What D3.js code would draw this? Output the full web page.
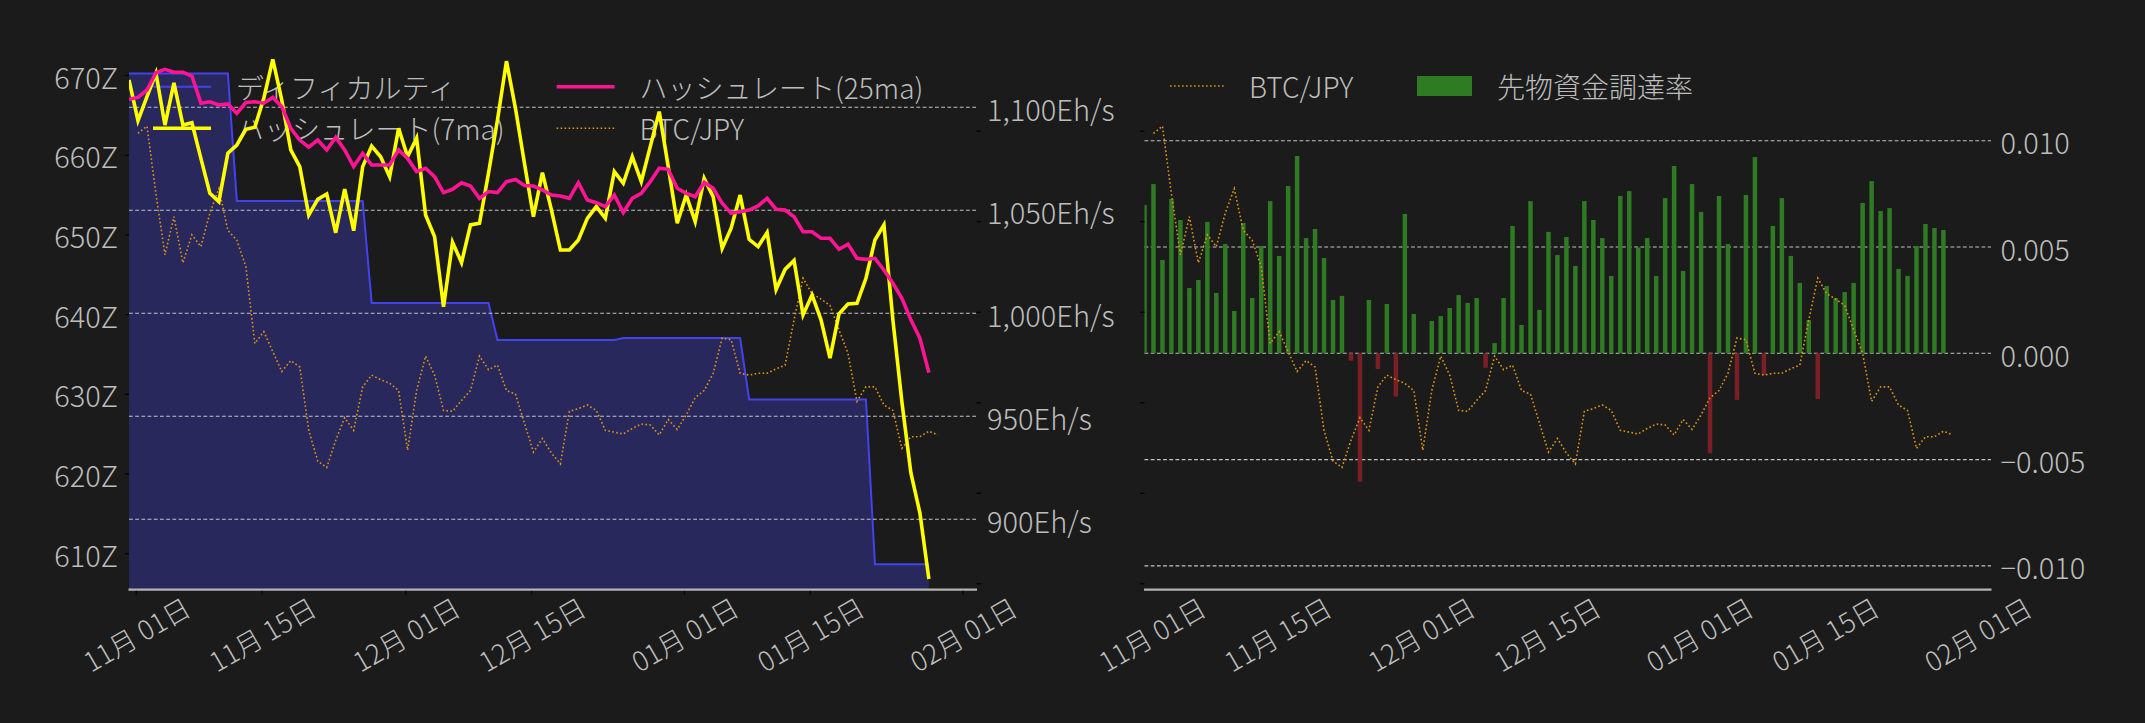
<!DOCTYPE html>
<html><head><meta charset="utf-8">
<script src="https://cdn.jsdelivr.net/npm/d3@7"></script>
<style>
html,body{margin:0;padding:0;background:#1b1b1b;}
svg{display:block;}
text{font-family:"Noto Sans CJK JP","Noto Sans",sans-serif;font-weight:300;fill:#bdbdbd;}
</style></head><body>
<svg id="chart" width="2145" height="723"></svg>
<script>
// ---------- data ----------
const startDate = Date.UTC(2025, 9, 31, 4, 48); // first daily sample
const difficultyZ = [
 670.2,670.2,670.2,670.2,670.2,670.2,670.2,670.2,670.2,670.2,670.2,670.2,
 654.2,654.2,654.2,654.2,654.2,654.2,654.2,654.2,654.2,654.2,654.2,654.2,654.2,654.2,654.2,
 641.4,641.4,641.4,641.4,641.4,641.4,641.4,641.4,641.4,641.4,641.4,641.4,641.4,641.4,
 636.75,636.75,636.75,636.75,636.75,636.75,636.75,636.75,636.75,636.75,636.75,636.75,636.75,636.75,
 637.0,637.0,637.0,637.0,637.0,637.0,637.0,637.0,637.0,637.0,637.0,637.0,637.0,637.0,
 629.3,629.3,629.3,629.3,629.3,629.3,629.3,629.3,629.3,629.3,629.3,629.3,629.3,629.3,
 608.6,608.6,608.6,608.6,608.6,608.6,608.6];
const hash7ma = [
 1113.3,1093.5,1105.2,1116.5,1091.4,1111.9,1091.4,1092.5,1075.2,1058.2,
 1054.2,1077.7,1081.7,1089.3,1090.3,1104.4,1123.3,1103.5,1079.3,1071.2,
 1047.7,1055.3,1057.9,1039.1,1060.3,1040.1,1071.2,1081.2,1076.0,1066.3,
 1089.8,1076.0,1085.0,1047.7,1037.2,1003.2,1034.5,1024.6,1042.9,1043.7,
 1068.0,1093.8,1122.4,1099.5,1072.8,1046.9,1068.3,1050.2,1030.7,1030.7,
 1035.6,1046.1,1051.8,1046.1,1068.8,1063.1,1076.0,1063.9,1080.9,1097.9,
 1071.2,1043.7,1057.4,1044.5,1065.5,1056.6,1031.5,1041.3,1057.4,1035.9,
 1032.4,1039.2,1011.6,1021.3,1025.6,999.2,1008.9,996.8,978.2,999.7,
 1004.5,1004.8,1017.0,1035.6,1042.9,996.7,956.9,922.5,903.1,871.0];
const hash25ma = [
 1103.9,1104.8,1108.4,1116.8,1118.4,1117.0,1117.0,1115.2,1102.0,1102.7,
 1101.1,1101.6,1097.1,1102.3,1102.7,1102.0,1104.8,1100.3,1089.8,1084.1,
 1080.6,1084.1,1079.3,1085.4,1079.3,1071.2,1077.7,1072.0,1072.0,1072.0,
 1079.3,1075.2,1068.8,1070.4,1066.3,1058.6,1060.2,1063.4,1061.8,1055.8,
 1059.1,1058.6,1063.9,1065.0,1062.0,1061.8,1059.9,1057.4,1056.9,1055.8,
 1063.4,1055.0,1053.7,1051.8,1057.4,1048.9,1055.8,1058.2,1063.9,1070.4,
 1069.9,1060.7,1058.2,1056.6,1063.6,1060.7,1053.4,1048.5,1049.3,1050.1,
 1052.1,1055.8,1050.5,1050.1,1046.9,1039.6,1039.6,1036.4,1036.4,1031.1,
 1033.6,1026.7,1026.2,1026.7,1021.0,1014.6,1007.3,996.8,987.9,971.2];
// BTC/JPY in millions of yen (first day has no value)
const btcJpyM = [null,
 16.97,17.05,16.30,15.63,16.05,15.54,15.85,15.72,16.09,16.36,
 15.90,15.79,15.50,14.65,14.78,14.56,14.34,14.46,14.39,13.69,
 13.35,13.28,13.58,13.83,13.69,14.17,14.30,14.25,14.21,14.13,
 13.47,14.13,14.51,14.30,13.91,13.90,14.02,14.13,14.51,14.36,
 14.41,14.13,14.09,13.77,13.45,13.60,13.44,13.32,13.90,13.93,
 13.97,13.91,13.69,13.67,13.65,13.71,13.76,13.75,13.64,13.81,
 13.70,13.86,14.05,14.13,14.32,14.71,14.69,14.32,14.30,14.32,
 14.32,14.37,14.41,14.91,15.37,15.20,15.14,15.07,14.80,14.54,
 14.01,14.17,14.17,13.97,13.91,13.49,13.62,13.62,13.68,13.64];
const fundingRate = [
 0.00698,0.00796,0.00439,0.00726,0.00627,0.00307,0.00345,0.00618,0.00284,0.00514,
 0.00199,0.00613,0.00260,0.00505,0.00716,0.00458,0.00787,0.00928,0.00542,0.00585,
 0.00448,0.00251,0.00270,-0.00035,-0.00604,0.00251,-0.00074,0.00232,-0.00204,0.00655,
 0.00185,0.00000,0.00152,0.00175,0.00213,0.00274,0.00237,0.00260,-0.00068,0.00048,
 0.00260,0.00599,0.00133,0.00716,0.00204,0.00571,0.00462,0.00547,0.00411,0.00716,
 0.00627,0.00542,0.00364,0.00740,0.00763,0.00498,0.00542,0.00364,0.00730,0.00881,
 0.00387,0.00796,0.00665,-0.00470,0.00740,0.00514,-0.00219,0.00745,0.00923,-0.00102,
 0.00599,0.00730,0.00458,0.00331,0.00157,-0.00215,0.00317,0.00260,0.00288,0.00331,
 0.00707,0.00810,0.00669,0.00683,0.00397,0.00364,0.00505,0.00608,0.00589,0.00580];
const tickDates = [[2025,10,1],[2025,10,15],[2025,11,1],[2025,11,15],[2026,0,1],[2026,0,15],[2026,1,1]];
const tickLabels = ["11月 01日","11月 15日","12月 01日","12月 15日","01月 01日","01月 15日","02月 01日"];
const diffTicks = [610,620,630,640,650,660,670];
const hashTicks = [900,950,1000,1050,1100];
const btcTicks = [12,13,14,15,16,17];
const fundTicks = [-0.010,-0.005,0.000,0.005,0.010];
const leftLegend = ["ディフィカルティ","ハッシュレート(7ma)","ハッシュレート(25ma)","BTC/JPY"];
const rightLegend = ["BTC/JPY","先物資金調達率"];

// ---------- layout ----------
const W = 2145, H = 723;
const yTop = 48.7, yBot = 589.3;
const L = {x0:129, x1:976.5}, R = {x0:1144.5, x1:1991};
const dayMs = 864e5;
const FS_Y = 29, FS_LEG = 28, FS_X = 27;
const C = {bg:"#1b1b1b", fill:"#29285c", blue:"#4343ee", yellow:"#ffff00", pink:"#ff1493",
  btc:"#e09512", green:"#2e7b23", red:"#7b1f27", grid:"#c4c4c4", text:"#bdbdbd", axis:"#b3b3b3"};

const svg = d3.select("#chart");
svg.append("rect").attr("width",W).attr("height",H).attr("fill",C.bg);

const dates = difficultyZ.map((_,i)=> new Date(startDate + i*dayMs));
const btcDates = btcJpyM.map((_,i)=> new Date(startDate + i*dayMs));
const xDomain = [new Date(startDate), new Date(startDate + 94.3*dayMs)];
const xL = d3.scaleUtc().domain(xDomain).range([L.x0, L.x1]);
const xR = d3.scaleUtc().domain(xDomain).range([R.x0, R.x1]);
const yDiff = d3.scaleLinear().domain([605.47, 673.3]).range([yBot, yTop]);
const yHash = d3.scaleLinear().domain([866.0, 1128.45]).range([yBot, yTop]);
const yBtc = d3.scaleLinear().domain([11.934, 17.906]).range([yBot, yTop]);
const yFund = d3.scaleLinear().domain([-0.0111, 0.014327]).range([yBot, yTop]);
const tDates = tickDates.map(d=> new Date(Date.UTC(d[0],d[1],d[2])));

const defs = svg.append("defs");
defs.append("clipPath").attr("id","clipL").append("rect")
  .attr("x",L.x0).attr("y",yTop-20).attr("width",L.x1-L.x0).attr("height",yBot-yTop+20);
defs.append("clipPath").attr("id","clipR").append("rect")
  .attr("x",R.x0).attr("y",yTop-20).attr("width",R.x1-R.x0).attr("height",yBot-yTop+20);

function xAxisLabels(x, x0, x1, showTicks){
  const g = svg.append("g");
  g.append("line").attr("x1",x0-0.5).attr("x2",x1+0.5).attr("y1",yBot+0.3).attr("y2",yBot+0.3)
    .attr("stroke",C.axis).attr("stroke-width",2.4);
  tDates.forEach((d,i)=>{
    const tx = x(d);
    if(showTicks) g.append("line").attr("x1",tx).attr("x2",tx).attr("y1",yBot+1.5).attr("y2",yBot+5.5)
      .attr("stroke","#050505").attr("stroke-width",1.2);
    g.append("text").attr("transform",`translate(${tx},633.5) rotate(-30)`)
      .attr("text-anchor","middle").attr("dominant-baseline","central")
      .style("font-size",FS_X+"px").text(tickLabels[i]);
  });
}
function hiddenTicks(axisGen, xpos){
  const g = svg.append("g").attr("transform",`translate(${xpos},0)`).call(axisGen);
  g.select(".domain").remove();
  g.selectAll("line").attr("stroke","#000").attr("stroke-width",1.2);
  return g;
}
function styleLabels(g){
  g.selectAll("text").style("font-size",FS_Y+"px").style("font-family",'"Noto Sans CJK JP","Noto Sans",sans-serif')
    .style("font-weight",300).attr("fill",C.text).attr("dy",null).attr("dominant-baseline","central");
}

// ================= LEFT CHART =================
const gL = svg.append("g").attr("clip-path","url(#clipL)");
gL.append("path").datum(difficultyZ)
  .attr("d", d3.area().x((d,i)=>xL(dates[i])).y0(yBot).y1(d=>yDiff(d)))
  .attr("fill",C.fill);
gL.append("path").datum(difficultyZ)
  .attr("d", d3.line().x((d,i)=>xL(dates[i])).y(d=>yDiff(d)))
  .attr("fill","none").attr("stroke",C.blue).attr("stroke-width",2);

// grid from hashrate axis
svg.append("g").selectAll("line").data(hashTicks).join("line")
  .attr("x1",L.x0).attr("x2",L.x1).attr("y1",d=>yHash(d)).attr("y2",d=>yHash(d))
  .attr("stroke",C.grid).attr("stroke-width",1.1).attr("stroke-dasharray","3.8,2.4");

// left legend (below hashrate lines)
const legL = svg.append("g");
const legItems = [
  {x:153, y:86.7, t:leftLegend[0], c:C.blue, w:2, dash:null},
  {x:153, y:128.3, t:leftLegend[1], c:C.yellow, w:3.6, dash:null},
  {x:556.6, y:86.7, t:leftLegend[2], c:C.pink, w:3.6, dash:null},
  {x:556.6, y:128.3, t:leftLegend[3], c:C.btc, w:1.6, dash:"1.6,2.4"}];
legItems.forEach(it=>{
  legL.append("line").attr("x1",it.x).attr("x2",it.x+58).attr("y1",it.y).attr("y2",it.y)
    .attr("stroke",it.c).attr("stroke-width",it.w).attr("stroke-dasharray",it.dash);
  legL.append("text").attr("x",it.x+83).attr("y",it.y).attr("dominant-baseline","central")
    .style("font-size",FS_LEG+"px").text(it.t);
});

const gL2 = svg.append("g").attr("clip-path","url(#clipL)");
gL2.append("path").datum(btcJpyM)
  .attr("d", d3.line().defined(d=>d!=null).x((d,i)=>xL(btcDates[i])).y(d=>yBtc(d)))
  .attr("fill","none").attr("stroke",C.btc).attr("stroke-width",1.6).attr("stroke-dasharray","1.6,2.4");
gL2.append("path").datum(hash7ma)
  .attr("d", d3.line().x((d,i)=>xL(dates[i])).y(d=>yHash(d)))
  .attr("fill","none").attr("stroke",C.yellow).attr("stroke-width",3.6).attr("stroke-linejoin","miter");
gL2.append("path").datum(hash25ma)
  .attr("d", d3.line().x((d,i)=>xL(dates[i])).y(d=>yHash(d)))
  .attr("fill","none").attr("stroke",C.pink).attr("stroke-width",3.6);

// axes left chart
styleLabels(hiddenTicks(d3.axisLeft(yDiff).tickValues(diffTicks).tickSize(4).tickPadding(7).tickFormat(d=>d+"Z"), L.x0));
styleLabels(hiddenTicks(d3.axisRight(yHash).tickValues(hashTicks).tickSize(0).tickPadding(10.5).tickFormat(d=>d3.format(",")(d)+"Eh/s"), L.x1));
hiddenTicks(d3.axisRight(yBtc).tickValues(btcTicks).tickSize(4.5).tickFormat(""), L.x1);
xAxisLabels(xL, L.x0, L.x1, true);

// ================= RIGHT CHART =================
svg.append("g").selectAll("line").data(fundTicks).join("line")
  .attr("x1",R.x0).attr("x2",R.x1).attr("y1",d=>yFund(d)).attr("y2",d=>yFund(d))
  .attr("stroke",C.grid).attr("stroke-width",1.1).attr("stroke-dasharray","3.8,2.4");
const gR = svg.append("g").attr("clip-path","url(#clipR)");
const barW = xR(new Date(startDate + 0.5*dayMs)) - xR(new Date(startDate));
gR.selectAll("rect").data(fundingRate).join("rect")
  .attr("x",(d,i)=>xR(dates[i]) - barW/2)
  .attr("width",barW)
  .attr("y",d=> d>=0 ? yFund(d) : yFund(0))
  .attr("height",d=> Math.abs(yFund(d)-yFund(0)))
  .attr("fill",d=> d>=0 ? C.green : C.red);
gR.append("path").datum(btcJpyM)
  .attr("d", d3.line().defined(d=>d!=null).x((d,i)=>xR(btcDates[i])).y(d=>yBtc(d)))
  .attr("fill","none").attr("stroke",C.btc).attr("stroke-width",1.6).attr("stroke-dasharray","1.6,2.4");

styleLabels(hiddenTicks(d3.axisRight(yFund).tickValues(fundTicks).tickSize(0).tickPadding(9.5).tickFormat(d3.format(".3f")), R.x1));
hiddenTicks(d3.axisLeft(yBtc).tickValues(btcTicks).tickSize(4.5).tickFormat(""), R.x0);
xAxisLabels(xR, R.x0, R.x1, false);

// right legend
const legR = svg.append("g");
legR.append("line").attr("x1",1170).attr("x2",1224).attr("y1",86).attr("y2",86)
  .attr("stroke",C.btc).attr("stroke-width",1.6).attr("stroke-dasharray","1.6,2.4");
legR.append("text").attr("x",1249).attr("y",86).attr("dominant-baseline","central")
  .style("font-size",FS_LEG+"px").text(rightLegend[0]);
legR.append("rect").attr("x",1417).attr("y",76).attr("width",55).attr("height",20).attr("fill",C.green);
legR.append("text").attr("x",1497).attr("y",86).attr("dominant-baseline","central")
  .style("font-size",FS_LEG+"px").text(rightLegend[1]);
</script>
</body></html>
